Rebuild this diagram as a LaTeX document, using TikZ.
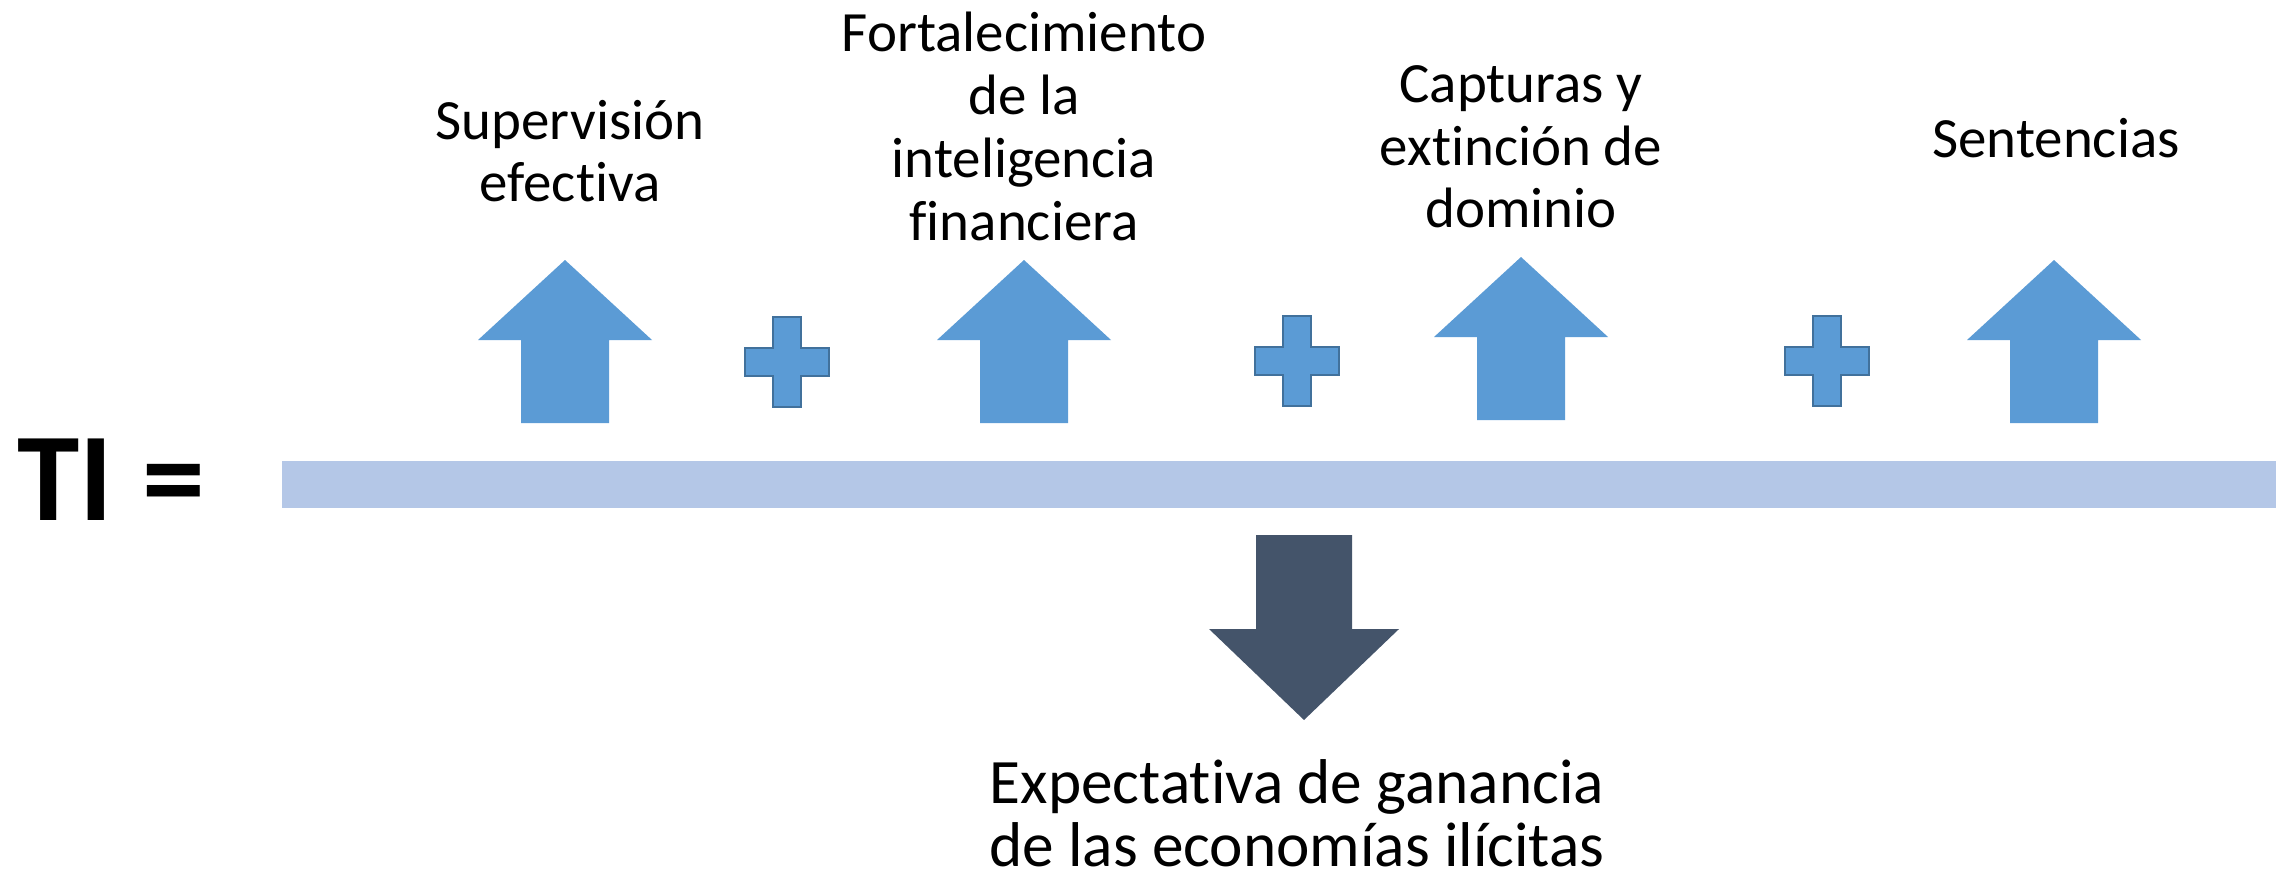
\documentclass[tikz,border=0pt]{standalone}
\usepackage{fontspec}
\setmainfont{Carlito}[Ligatures={NoCommon}]
\usepackage{tikz}
\usepackage{xcolor}

\definecolor{arrowblue}{HTML}{5B9BD5}
\definecolor{plusedge}{HTML}{41719C}
\definecolor{barblue}{HTML}{B4C7E7}
\definecolor{slate}{HTML}{44546A}

\begin{document}
\begin{tikzpicture}[x=0.1mm, y=-0.1mm,
    label/.style={align=center, inner sep=0pt, anchor=base, font=\fontsize{16.2}{17.9}\selectfont},
    uparr/.pic={\fill[arrowblue] (-44,0) -- (-44,-83) -- (-87,-83) -- (0,-163) -- (87,-83) -- (44,-83) -- (44,0) -- cycle;},
    plus/.pic={\draw[plusedge, fill=arrowblue, line width=0.7pt] (-14,-45) -- (14,-45) -- (14,-14) -- (42,-14) -- (42,14) -- (14,14) -- (14,45) -- (-14,45) -- (-14,14) -- (-42,14) -- (-42,-14) -- (-14,-14) -- cycle;}]
    \useasboundingbox (0,0) rectangle (2288,874);
    \fill[barblue] (282,461) rectangle (2276,508);
    \node[anchor=base west, inner sep=0pt, font=\fontsize{35.8}{40}\selectfont\bfseries] (ti) at (17,520) {TI =};
	\pic at (565,423) {uparr};
	\pic at (1024,423) {uparr};
	\pic at (1521,420) {uparr};
	\pic at (2054,423) {uparr};
	\pic at (787,362) {plus};
	\pic at (1297,361) {plus};
	\pic at (1827,361) {plus};
	\fill[slate] (1256,535) -- (1352,535) -- (1352,629) -- (1399,629) -- (1304,720) -- (1209,629) -- (1256,629) -- cycle;
	% base anchor sits on the last line
	\node[label] (superv) at (570,202) {Supervisión\\efectiva};
	\node[label] (fortal) at (1024,240) {Fortalecimiento\\de la\\inteligencia\\financiera};
	\node[label] (captur) at (1521,228) {Capturas y\\extinción de\\dominio};
	\node[label] (senten) at (2056,158) {Sentencias};
	\node[label, font=\fontsize{18}{17.9}\selectfont] (expect) at (1297,866) {Expectativa de ganancia\\de las economías ilícitas};
\end{tikzpicture}
\end{document}
